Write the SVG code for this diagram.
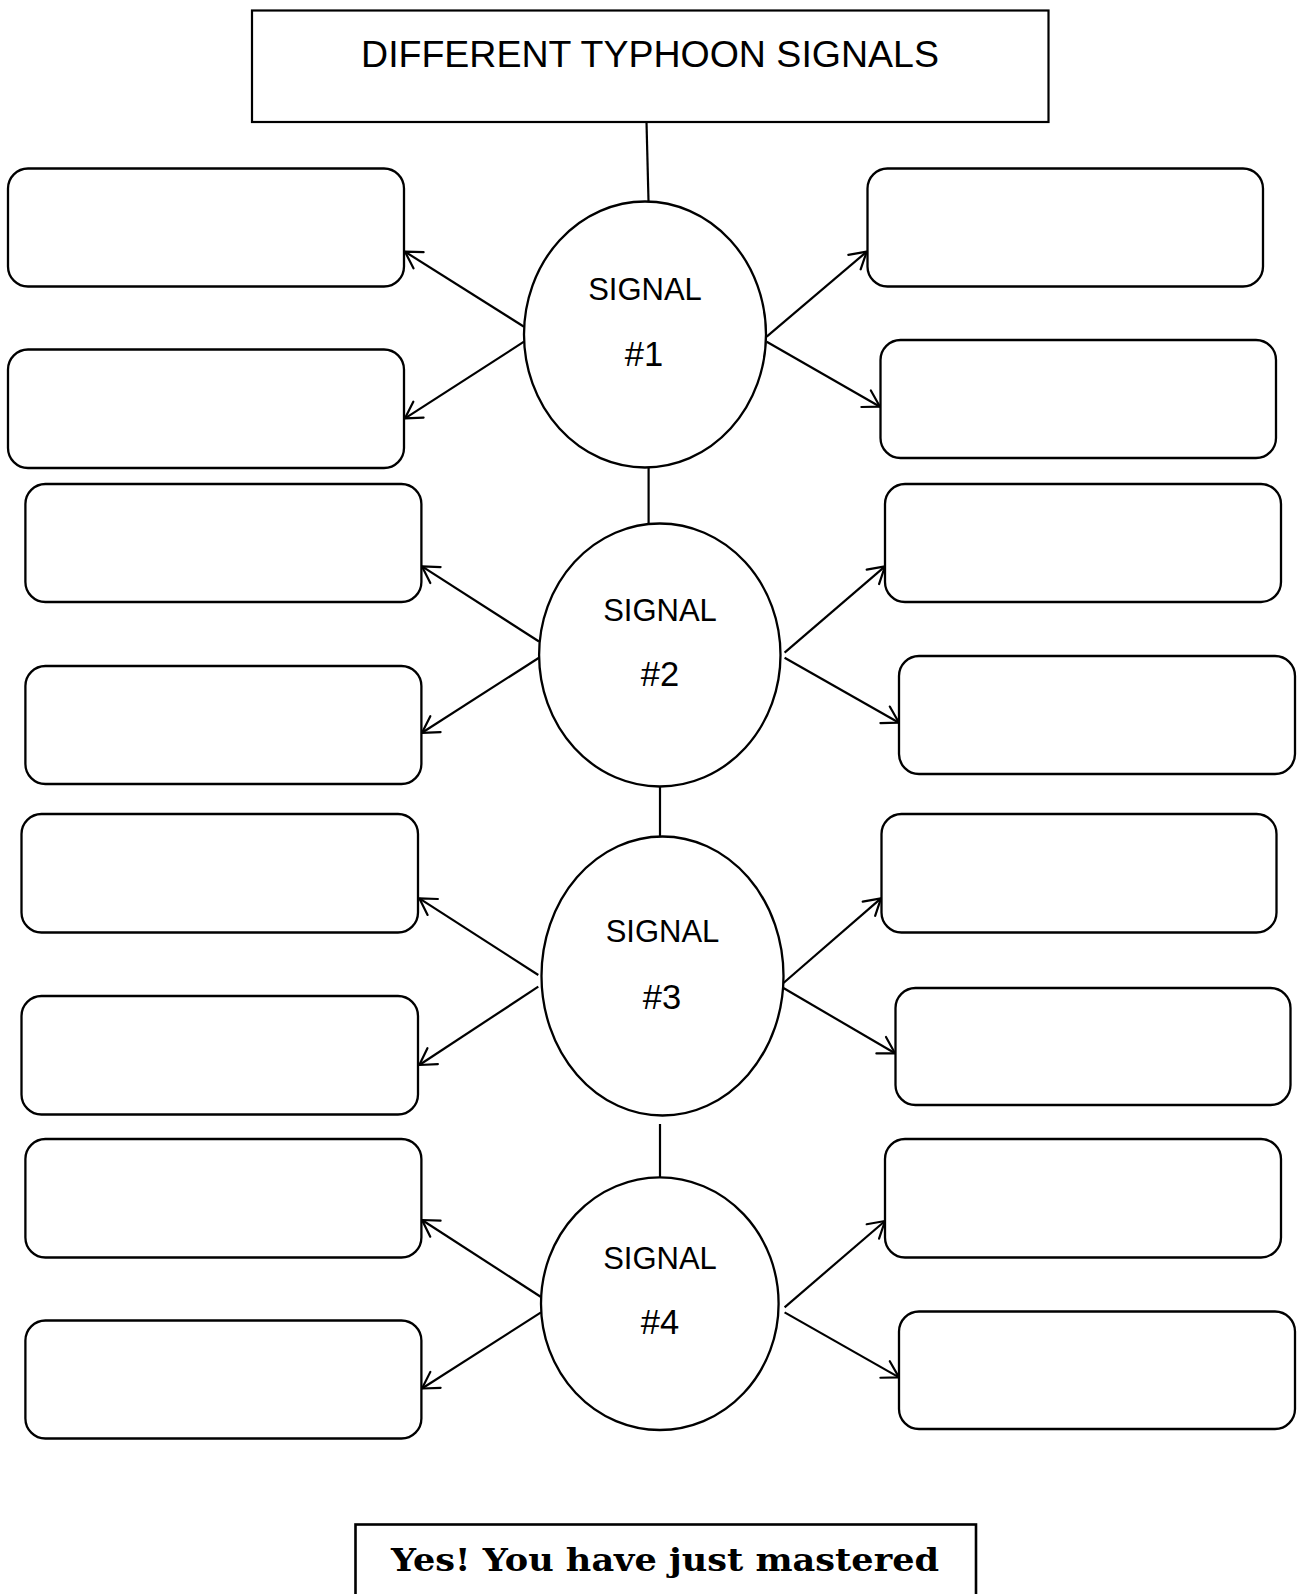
<svg xmlns="http://www.w3.org/2000/svg" width="1302" height="1594" viewBox="0 0 1302 1594">
<style>
.box{fill:#fff;stroke:#000;stroke-width:2.2}
.rbox{fill:#fff;stroke:#000;stroke-width:2.3}
.ell{fill:#fff;stroke:#000;stroke-width:2.3}
.conn line{stroke:#000;stroke-width:2.2;fill:none}
.lbl{font-family:"Liberation Sans",Arial,sans-serif;fill:#000;text-anchor:middle}
.sig{font-size:31px}
.num{font-size:34.5px}
.title{font-size:37.5px}
.foot{font-family:"DejaVu Serif","Liberation Serif",serif;font-weight:bold;font-size:32.5px;fill:#000;text-anchor:middle}
</style>
<defs>
<marker id="arr" viewBox="-20 -12 22 24" refX="0" refY="0" markerWidth="22" markerHeight="24" markerUnits="userSpaceOnUse" orient="auto">
<path d="M-16,-9.5 L0,0 L-16,9.5" fill="none" stroke="#000" stroke-width="2.2" stroke-linecap="round" stroke-linejoin="round"/>
</marker>
</defs>
<rect width="1302" height="1594" fill="#fff"/>

<g class="conn" id="connectors">
<line x1="646.5" y1="122" x2="648.5" y2="201"/>
<line x1="648.6" y1="468" x2="648.6" y2="524"/>
<line x1="660" y1="787" x2="660" y2="836"/>
<line x1="660" y1="1124" x2="660" y2="1177"/>
<g marker-end="url(#arr)">
<line x1="524" y1="326.7" x2="405" y2="251.7"/>
<line x1="524" y1="341.7" x2="405" y2="418.3"/>
<line x1="766.7" y1="336.7" x2="866.7" y2="251.7"/>
<line x1="766.7" y1="341.7" x2="880" y2="406.7"/>
<line x1="539" y1="641.5" x2="422" y2="566.4"/>
<line x1="539" y1="657.7" x2="422" y2="732.8"/>
<line x1="784.6" y1="652.6" x2="885" y2="566.4"/>
<line x1="784.6" y1="657.7" x2="899" y2="722.7"/>
<line x1="538.3" y1="975" x2="419.3" y2="898.3"/>
<line x1="538.3" y1="986.7" x2="419.3" y2="1065"/>
<line x1="780" y1="986" x2="881" y2="898.3"/>
<line x1="780" y1="986" x2="895" y2="1053.3"/>
<line x1="541" y1="1297" x2="422" y2="1220"/>
<line x1="541" y1="1312.4" x2="422" y2="1388.5"/>
<line x1="784.6" y1="1307.3" x2="885" y2="1221"/>
<line x1="784.6" y1="1312.4" x2="899" y2="1377.4"/>
</g>
</g>

<g id="title">
<rect class="box" x="252" y="10.5" width="796.5" height="111.5"/>
<text class="lbl title" x="650" y="66.5">DIFFERENT TYPHOON SIGNALS</text>
</g>

<g id="signal1">
<ellipse class="ell" cx="645" cy="334.5" rx="121" ry="133"/>
<text class="lbl sig" x="645" y="300">SIGNAL</text>
<text class="lbl num" x="644" y="366">#1</text>
</g>
<g id="signal2">
<ellipse class="ell" cx="659.8" cy="655" rx="120.7" ry="131.5"/>
<text class="lbl sig" x="660" y="620.5">SIGNAL</text>
<text class="lbl num" x="660" y="685.5">#2</text>
</g>
<g id="signal3">
<ellipse class="ell" cx="662.5" cy="976" rx="121" ry="139.5"/>
<text class="lbl sig" x="662.5" y="941.7">SIGNAL</text>
<text class="lbl num" x="662" y="1009.3">#3</text>
</g>
<g id="signal4">
<ellipse class="ell" cx="659.8" cy="1303.7" rx="118.8" ry="126.3"/>
<text class="lbl sig" x="660" y="1269">SIGNAL</text>
<text class="lbl num" x="660" y="1334">#4</text>
</g>

<g id="box1a"><rect class="rbox" x="8" y="168.5" width="396" height="118" rx="20"/></g>
<g id="box1b"><rect class="rbox" x="8" y="349.5" width="396" height="118.5" rx="20"/></g>
<g id="box1c"><rect class="rbox" x="867.5" y="168.5" width="395.5" height="118" rx="20"/></g>
<g id="box1d"><rect class="rbox" x="880.5" y="340" width="395.5" height="118" rx="20"/></g>

<g id="box2a"><rect class="rbox" x="25.4" y="484" width="396" height="118" rx="20"/></g>
<g id="box2b"><rect class="rbox" x="25.4" y="666" width="396" height="118" rx="20"/></g>
<g id="box2c"><rect class="rbox" x="885" y="484" width="396" height="118" rx="20"/></g>
<g id="box2d"><rect class="rbox" x="899" y="656" width="396" height="118" rx="20"/></g>

<g id="box3a"><rect class="rbox" x="21.5" y="814" width="396.5" height="118.5" rx="20"/></g>
<g id="box3b"><rect class="rbox" x="21.5" y="996" width="396.5" height="118.5" rx="20"/></g>
<g id="box3c"><rect class="rbox" x="881.5" y="814" width="395" height="118.5" rx="20"/></g>
<g id="box3d"><rect class="rbox" x="895.5" y="988" width="395" height="117" rx="20"/></g>

<g id="box4a"><rect class="rbox" x="25.4" y="1139" width="396" height="118.5" rx="20"/></g>
<g id="box4b"><rect class="rbox" x="25.4" y="1320.5" width="396" height="118" rx="20"/></g>
<g id="box4c"><rect class="rbox" x="885" y="1139" width="396" height="118.5" rx="20"/></g>
<g id="box4d"><rect class="rbox" x="899" y="1311.5" width="396" height="117.5" rx="20"/></g>

<g id="footer">
<rect x="355.5" y="1524.5" width="620.5" height="90" fill="#fff" stroke="#000" stroke-width="2.6"/>
<text class="foot" x="665" y="1570.5" textLength="548" lengthAdjust="spacingAndGlyphs">Yes! You have just mastered</text>
</g>
</svg>
